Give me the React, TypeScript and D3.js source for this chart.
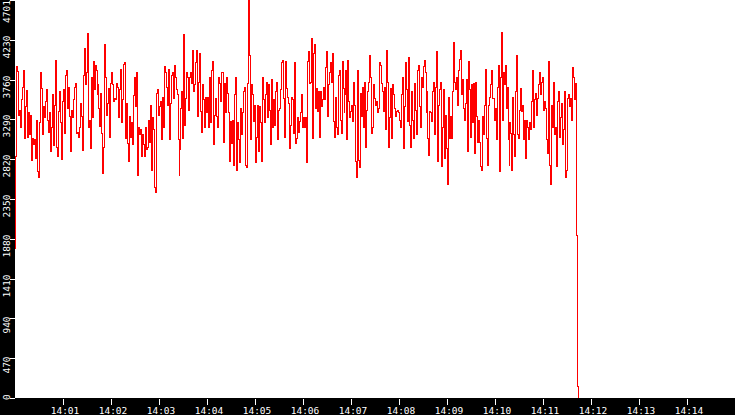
import React from "react";
import * as d3 from "d3";

// ---- data ----
const startTime = new Date(2000, 0, 1, 14, 0, 0);
const sampleSeconds = 1.235;

const seg1 = [1770, 2850, 3920, 3860, 3340, 3400, 3200, 3520, 3670, 3870, 3070, 3440, 3630, 3080, 3370, 3110, 3340, 2810, 3070, 2990, 3050, 2830, 3280, 2670, 2610, 3250, 3850, 3660, 3110, 3440, 3310, 3500, 3640, 3280, 3140, 3370, 2910, 3190, 3580, 2980, 3460, 3990, 2960, 2850, 3380, 3620, 3250, 2820, 3500, 3640, 3130, 3810, 3870, 3420, 3670, 3320, 2910, 3400, 3310, 3520, 3670, 3720, 3130, 3140, 3080, 3190, 3480, 3320, 2920, 3810, 4130, 3700, 3840, 4300, 3200, 3280, 2950];
const seg2 = [3780, 3310, 3970, 3640, 3930, 3870, 3580, 3700, 3420, 3210, 3600, 3130, 2650, 2960, 4170, 3790, 3340, 3480, 3660, 3080, 3720, 3850, 3700, 3500, 3540, 3520, 3720, 3670, 3310, 3640, 3880, 3250, 3520, 3940, 3960, 3070, 3480, 3010, 2790, 3320, 3080, 3250, 3000, 3570, 3790, 3440, 3840, 2630, 3200, 3110, 3170, 2850, 3110, 2990, 2850, 3200, 2930, 2960, 3280, 3020, 3450, 2690, 3310, 3170, 2490, 2430, 3600, 3640, 3340, 3440, 3500, 3050, 3550, 3200, 3910, 3850];
const seg3 = [3670, 3460, 3880, 3050, 3480, 3810, 3850, 3540, 3930, 3780, 3640, 3580, 3050, 2630, 2930, 3420, 3620, 3070, 4290, 3220, 3540, 3850, 3780, 3400, 3790, 3840, 3720, 4110, 3620, 3700, 3960, 4110, 3320, 3730, 4070, 3380, 3140, 3700, 3520, 3190, 3550, 3370, 3550, 3190, 3780, 3250, 3870, 3970, 2990, 3340, 3540, 3320, 3190, 3780, 3720, 3500, 3840, 3840, 3020, 3720, 3370, 3780, 3600, 3370, 2790, 3260, 3010, 3280, 2750, 3580, 3790, 2690, 3250, 3050, 2780];
const seg4 = [3420, 3110, 3370, 3620, 3670, 2750, 2720, 3720, 4701, 4050, 3050, 3700, 3580, 3260, 3460, 2780, 3080, 3460, 2910, 3440, 3250, 2790, 2870, 3790, 3520, 3250, 3580, 3730, 3310, 3700, 3400, 2990, 3760, 3200, 3520, 3220, 3620, 3730, 3050, 3400, 3420, 3640, 3960, 3990, 3540, 3080, 3970, 3660, 3550, 3480, 2950, 3220, 3550, 3520, 3130, 3960, 3010, 3070, 3310, 3140, 3260, 3370, 3580, 3190, 3310, 3200, 3310, 2780, 3970, 4090, 3720, 3730, 4250, 3070, 4070, 4170, 3420, 3660, 3380, 3620, 3080, 3620, 3440, 3520, 3670];
const seg5 = [3530, 3900, 4090, 3320, 3700, 3850, 3960, 3730, 4070, 3260, 3080, 3550, 3200, 3110, 3810, 3870, 3280, 3130, 3970, 3660, 3370, 3580, 3870, 3050, 3990, 3500, 3310, 3380, 3460, 3260, 3730, 3460, 2790, 2610, 3870, 2810, 2720, 3600, 3320, 3670, 3200, 3730, 2960, 3400, 3620, 3730, 4050, 3790, 3130, 3200, 3700, 3540, 3460, 3500, 3370, 3420, 3960, 3930, 3720, 3620, 3380, 3670, 3170, 4110, 3730, 2960, 3310, 3660, 3070, 3700, 3580, 3420, 3320, 3380, 3400, 3370, 3280, 3200, 3580, 3780, 2950, 3440, 3960, 3640, 3260];
const seg6 = [4020, 3220, 2960, 3620, 3280, 3070, 3720, 3400, 3110, 3870, 3930, 3440, 3200, 3780, 3670, 3910, 3990, 3840, 3370, 3620, 3070, 2870, 3380, 3370, 3260, 3620, 3730, 3110, 3670, 4090, 2790, 3460, 3640, 3730, 2730, 3200, 3640, 2830, 3340, 2950, 2520, 3550, 3070, 3320, 3070, 3620, 4200, 3730, 3640, 3780, 3460, 3870, 4000, 4110, 3580, 3760, 3420, 3280, 3480, 3760, 2910, 3970, 3640, 3080, 3700, 3250, 3720, 2890, 3730, 3320, 3020, 3280, 3020, 2730, 2690, 3320, 3110, 3460, 3880, 3070, 2750, 3460, 3550, 3700, 3870, 3540];
const seg7 = [3540, 3280, 3420, 3050, 3670, 3930, 2670, 3780, 4320, 3280, 3850, 3700, 3930, 3420, 3670, 3050, 2750, 3250, 3130, 2690, 3550, 3110, 2850, 3620, 4050, 3110, 3070, 3400, 3660, 3380, 3460, 3050, 3280, 2830, 3280, 3190, 3050, 3250, 3170, 3500, 3870, 3200, 3520, 3600, 3340, 3540, 3700, 3840, 3580, 3730, 3790, 3400, 3500, 3420, 3050, 2890, 3970, 2750, 2520, 3460, 3200, 3730, 3110, 3200, 2730, 3500, 3620, 3080, 3310, 3480, 2990, 3170, 3620, 2610, 2690, 3540, 3580, 3440, 3540, 3280, 3900, 3780, 3520, 3720];
const tailValues = [1925, 130, 0];

const values: number[] = [...seg1, ...seg2, ...seg3, ...seg4, ...seg5, ...seg6, ...seg7, ...tailValues];

const yTickValues = [0, 470, 940, 1410, 1880, 2350, 2820, 3290, 3760, 4230, 4701];
const yMax = 4701;
const xTickMinutes = [1, 2, 3, 4, 5, 6, 7, 8, 9, 10, 11, 12, 13, 14];
const xDomainMinutes = 15;

// ---- layout ----
const W = 735;
const H = 415;
const plotLeft = 15;
const plotBottom = 398;
const FONT = "'DejaVu Sans Mono', monospace";
const FS = 9.5;
const charW = FS * 0.602;

export default function App() {
  const t0 = startTime.getTime();
  const x = d3
    .scaleTime()
    .domain([startTime, new Date(t0 + xDomainMinutes * 60000)])
    .range([plotLeft, W]);
  const y = d3.scaleLinear().domain([0, yMax]).range([plotBottom, 0]);

  const pts: [Date, number][] = values.map((v, i) => [new Date(t0 + i * sampleSeconds * 1000), v]);
  const line = d3
    .line<[Date, number]>()
    .x((d) => x(d[0]))
    .y((d) => y(d[1]))
    .curve(d3.curveStepAfter);

  const fmt = d3.timeFormat("%H:%M");

  return (
    <svg
      width={W}
      height={H}
      style={{ position: "fixed", left: 0, top: 0, display: "block", background: "#fff" }}
    >
      <rect x={plotLeft} y={0} width={W - plotLeft} height={plotBottom} fill="#fff" />
      <path d={line(pts) || ""} fill="none" stroke="#ff0000" strokeWidth={1} shapeRendering="crispEdges" />
      {/* axis backgrounds */}
      <rect x={0} y={0} width={plotLeft} height={H} fill="#000" />
      <rect x={0} y={plotBottom} width={W} height={H - plotBottom} fill="#000" />
      {/* y axis */}
      {yTickValues.map((v) => {
        const ty = Math.round(y(v));
        const label = String(v);
        const len = label.length * charW;
        let cy = ty + 7;
        cy = Math.max(len / 2, Math.min(400 - len / 2, cy));
        return (
          <g key={"y" + v}>
            <line x1={10} x2={plotLeft} y1={ty + 0.5} y2={ty + 0.5} stroke="#fff" strokeWidth={1} />
            <text
              transform={`translate(10,${cy}) rotate(-90)`}
              textAnchor="middle"
              fill="#fff"
              fontFamily={FONT}
              fontSize={FS}
            >
              {label}
            </text>
          </g>
        );
      })}
      {/* x axis */}
      {xTickMinutes.map((m) => {
        const d = new Date(t0 + m * 60000);
        const tx = Math.round(x(d));
        return (
          <g key={"x" + m}>
            <line x1={tx + 0.5} x2={tx + 0.5} y1={399} y2={405} stroke="#fff" strokeWidth={1} />
            <text x={tx + 2} y={413.5} textAnchor="middle" fill="#fff" fontFamily={FONT} fontSize={FS}>
              {fmt(d)}
            </text>
          </g>
        );
      })}
    </svg>
  );
}
